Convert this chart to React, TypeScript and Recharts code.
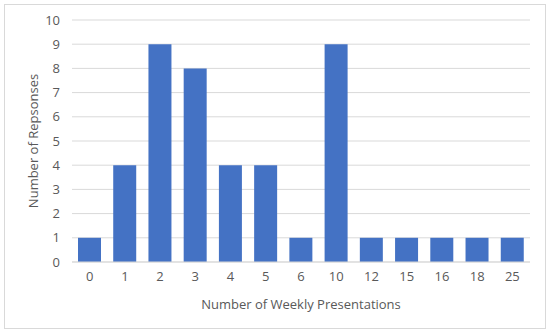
import { BarChart, Bar, XAxis, YAxis, CartesianGrid } from "recharts";

const categories = ["0", "1", "2", "3", "4", "5", "6", "10", "12", "15", "16", "18", "25"];
const responses = [1, 4, 9, 8, 4, 4, 1, 9, 1, 1, 1, 1, 1];
const yTicks = [0, 1, 2, 3, 4, 5, 6, 7, 8, 9, 10];

const data = categories.map((c, i) => ({ presentations: c, responses: responses[i] }));

const textColor = "#595959";
const font = "'Open Sans', sans-serif";

const YTitle = (props: any) => {
  const vb = props.viewBox || {};
  const cy = (vb.y ?? 20) + (vb.height ?? 242) / 2;
  return (
    <text
      x={33}
      y={cy}
      transform={`rotate(-90, 33, ${cy})`}
      textAnchor="middle"
      dominantBaseline="central"
      fill={textColor}
      fontSize={13}
      fontFamily={font}
    >
      Number of Repsonses
    </text>
  );
};

export default function App() {
  return (
    <div style={{ position: "absolute", left: 0, top: 0, width: 550, height: 333, background: "#fff" }}>
      <div
        style={{
          position: "absolute",
          left: 4,
          top: 4,
          width: 540,
          height: 323,
          border: "1px solid #D9D9D9",
        }}
      />
      <BarChart
        width={550}
        height={333}
        data={data}
        margin={{ top: 20, right: 20, bottom: 0, left: 0 }}
        barCategoryGap="17%"
        style={{ position: "absolute", left: 0, top: 0, fontFamily: font }}
      >
        <CartesianGrid vertical={false} stroke="#D9D9D9" />
        <XAxis
          dataKey="presentations"
          height={71}
          tickSize={0}
          tickMargin={10}
          axisLine={{ stroke: "#D9D9D9" }}
          tick={{ fill: textColor, fontSize: 13, fontFamily: font }}
          interval={0}
          label={{
            value: "Number of Weekly Presentations",
            position: "insideBottom",
            offset: 24,
            fill: textColor,
            fontSize: 13,
            fontFamily: font,
          }}
        />
        <YAxis
          width={72}
          domain={[0, 10]}
          ticks={yTicks}
          interval={0}
          tickSize={0}
          tickMargin={12}
          axisLine={false}
          tickLine={false}
          tick={{ fill: textColor, fontSize: 13, fontFamily: font }}
          label={{ content: YTitle }}
        />
        <Bar dataKey="responses" fill="#4472C4" isAnimationActive={false} />
      </BarChart>
    </div>
  );
}
